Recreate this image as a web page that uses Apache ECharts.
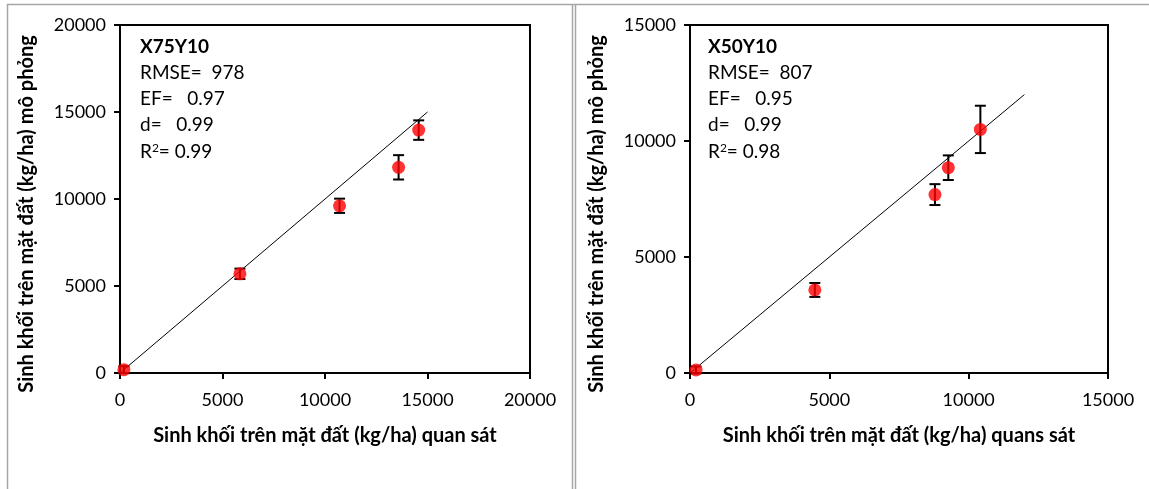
<!DOCTYPE html>
<html>
<head>
<meta charset="utf-8">
<script src="https://cdn.jsdelivr.net/npm/echarts@6/dist/echarts.min.js"></script>
<style>
  html, body { margin: 0; padding: 0; background: #fff; }
  #chart { width: 1149px; height: 489px; }
</style>
</head>
<body>
<div id="chart"></div>
<script>
// X75Y10: observed vs simulated aboveground biomass (kg/ha)
const obsA = [190, 5850, 10710, 13590, 14570];
const simA = [190, 5700, 9610, 11820, 13960];
const sdA  = [200, 300, 410, 700, 560];
const statsA = { name: 'X75Y10', rmse: '978', ef: '0.97', d: '0.99', r2: '0.99' };

// X50Y10
const obsB = [215, 4480, 8790, 9270, 10420];
const simB = [130, 3580, 7690, 8850, 10500];
const sdB  = [150, 300, 450, 530, 1020];
const statsB = { name: 'X50Y10', rmse: '807', ef: '0.95', d: '0.99', r2: '0.98' };

// 1:1 reference lines
const lineA = [0, 15000];
const lineB = [0, 12000];

// Axis ranges
const maxA = 20000, maxB = 15000, step = 5000;

const yTitle = 'Sinh khối trên mặt đất (kg/ha) mô phỏng';
const xTitleA = 'Sinh khối trên mặt đất (kg/ha) quan sát';
const xTitleB = 'Sinh khối trên mặt đất (kg/ha) quans sát';

const FONT = 'Lato, "Open Sans", sans-serif';

function zip(xs, ys, extra) {
  return xs.map((x, i) => extra ? [x, ys[i], extra[i]] : [x, ys[i]]);
}

function errorBars(params, api) {
  const x = api.value(0), y = api.value(1), e = api.value(2);
  const top = api.coord([x, y + e]);
  const bot = api.coord([x, y - e]);
  const hw = 5.5;
  const style = { stroke: '#000', lineWidth: 2 };
  return {
    type: 'group',
    children: [
      { type: 'line', shape: { x1: top[0], y1: top[1], x2: bot[0], y2: bot[1] }, style },
      { type: 'line', shape: { x1: top[0] - hw, y1: top[1], x2: top[0] + hw, y2: top[1] }, style },
      { type: 'line', shape: { x1: bot[0] - hw, y1: bot[1], x2: bot[0] + hw, y2: bot[1] }, style }
    ]
  };
}

function axisCommon(max, margin) {
  return {
    min: 0, max: max, interval: step,
    axisLine: { show: true, onZero: false, lineStyle: { color: '#000', width: 2 } },
    axisTick: { show: true, inside: false, length: 6, lineStyle: { color: '#000', width: 2 } },
    axisLabel: {
      color: '#000', fontFamily: FONT, fontSize: 18, margin: margin,
      formatter: (v) => String(v)
    },
    splitLine: { show: false }
  };
}

const xTitleStyle = { color: '#000', fontFamily: FONT, fontSize: 20, fontWeight: 'bold' };
// vertical title sits a little lower than the plot's middle
const yTitleStyle = Object.assign({}, xTitleStyle, { padding: [0, 30, 0, 0] });

function statsText(s, left) {
  const items = [];
  const lines = [
    { t: s.name, bold: true },
    { t: 'RMSE=  ' + s.rmse },
    { t: 'EF=   ' + s.ef },
    { t: 'd=   ' + s.d },
    { t: '{r|R}{sup|2}{r|= ' + s.r2 + '}', rich: true }
  ];
  lines.forEach((ln, i) => {
    const style = {
      text: ln.t,
      fill: '#000',
      font: (ln.bold ? 'bold ' : '') + '19px ' + FONT
    };
    if (ln.rich) {
      style.rich = {
        r: { fontFamily: FONT, fontSize: 19, fill: '#000' },
        sup: { fontFamily: FONT, fontSize: 12, fill: '#000', padding: [0, 0, 9, 0] }
      };
    }
    items.push({ type: 'text', left: left, top: 37 + i * 26.2, style: style, z: 10 });
  });
  return items;
}

const frame = { stroke: '#a6a6a6', lineWidth: 1.5 };

const option = {
  animation: false,
  backgroundColor: '#fff',
  grid: [
    { left: 120, top: 25, width: 410, height: 348, show: true, borderColor: '#000', borderWidth: 2, backgroundColor: 'transparent' },
    { left: 690, top: 25, width: 418, height: 348, show: true, borderColor: '#000', borderWidth: 2, backgroundColor: 'transparent' }
  ],
  xAxis: [
    Object.assign(axisCommon(maxA, 18), {
      gridIndex: 0, name: xTitleA, nameLocation: 'middle', nameGap: 53, nameTextStyle: xTitleStyle
    }),
    Object.assign(axisCommon(maxB, 18), {
      gridIndex: 1, name: xTitleB, nameLocation: 'middle', nameGap: 53, nameTextStyle: xTitleStyle
    })
  ],
  yAxis: [
    Object.assign(axisCommon(maxA, 14), {
      gridIndex: 0, name: yTitle, nameLocation: 'middle', nameGap: 83, nameRotate: 90, nameTextStyle: yTitleStyle
    }),
    Object.assign(axisCommon(maxB, 14), {
      gridIndex: 1, name: yTitle, nameLocation: 'middle', nameGap: 83, nameRotate: 90, nameTextStyle: yTitleStyle
    })
  ],
  series: [
    {
      type: 'line', xAxisIndex: 0, yAxisIndex: 0, data: zip(lineA, lineA),
      symbol: 'none', lineStyle: { color: '#000', width: 1 }, z: 2
    },
    {
      type: 'custom', xAxisIndex: 0, yAxisIndex: 0, data: zip(obsA, simA, sdA),
      renderItem: errorBars, z: 3
    },
    {
      type: 'scatter', xAxisIndex: 0, yAxisIndex: 0, data: zip(obsA, simA),
      symbol: 'circle', symbolSize: 13, itemStyle: { color: '#ff0000' }, z: 4
    },
    {
      type: 'line', xAxisIndex: 1, yAxisIndex: 1, data: zip(lineB, lineB),
      symbol: 'none', lineStyle: { color: '#000', width: 1 }, z: 2
    },
    {
      type: 'custom', xAxisIndex: 1, yAxisIndex: 1, data: zip(obsB, simB, sdB),
      renderItem: errorBars, z: 3
    },
    {
      type: 'scatter', xAxisIndex: 1, yAxisIndex: 1, data: zip(obsB, simB),
      symbol: 'circle', symbolSize: 13, itemStyle: { color: '#ff0000' }, z: 4
    }
  ],
  graphic: [
    // panel frames
    { type: 'line', shape: { x1: 7, y1: 4.5, x2: 1149, y2: 4.5 }, style: frame, silent: true },
    { type: 'line', shape: { x1: 7.5, y1: 4, x2: 7.5, y2: 489 }, style: frame, silent: true },
    { type: 'line', shape: { x1: 572.5, y1: 4, x2: 572.5, y2: 489 }, style: frame, silent: true },
    { type: 'line', shape: { x1: 575.5, y1: 4, x2: 575.5, y2: 489 }, style: frame, silent: true }
  ].concat(statsText(statsA, 140), statsText(statsB, 708))
};

const chart = echarts.init(document.getElementById('chart'), null, { renderer: 'canvas' });
chart.setOption(option);
</script>
</body>
</html>
